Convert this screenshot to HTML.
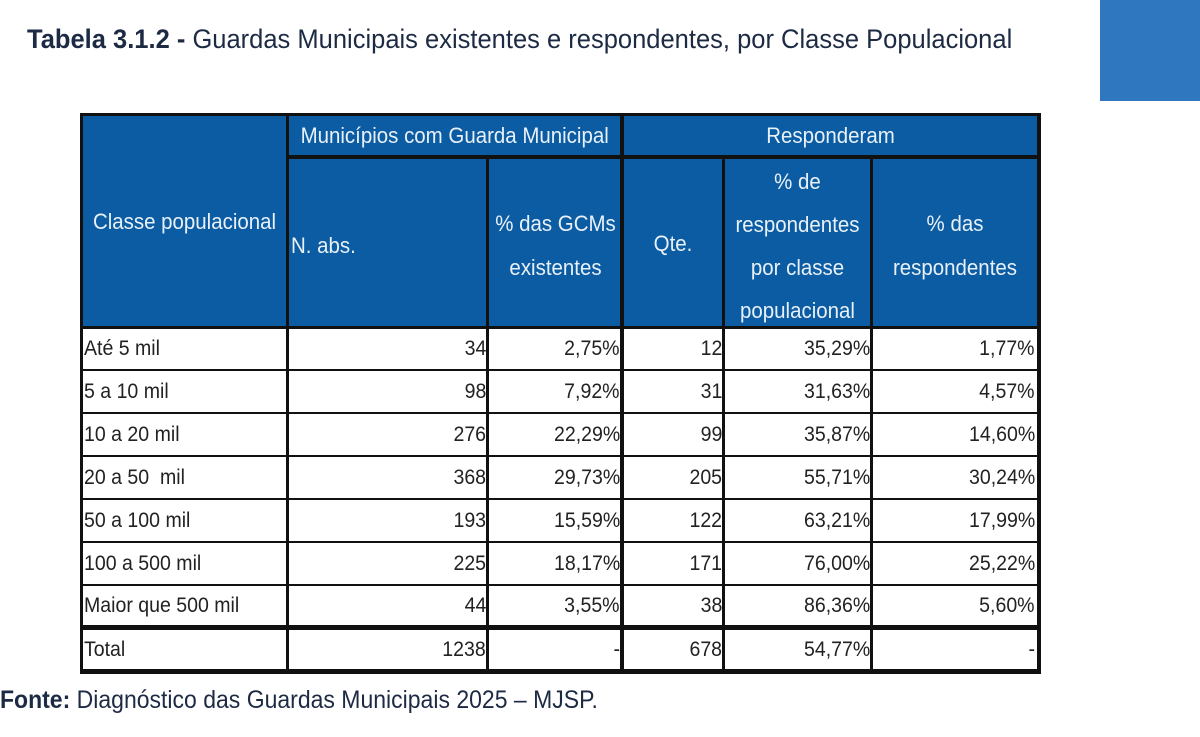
<!DOCTYPE html>
<html><head><meta charset="utf-8"><style>
body{margin:0;width:1200px;height:737px;background:#fff;position:relative;overflow:hidden;font-family:"Liberation Sans",sans-serif;}
.abs{position:absolute}
.t{position:absolute;white-space:nowrap;font-size:21px;line-height:24px;color:#222;}
.hd{color:#e8f0f8;font-size:22px}
.L{transform:scaleX(.93);transform-origin:left center}
.R{transform:scaleX(.93);transform-origin:right center;text-align:right}
.C{transform:scaleX(.93);transform-origin:center center;text-align:center}
.blue{position:absolute;background:#0b5ca3}
.ln{position:absolute;background:#111}
</style></head><body>
<div class="abs" style="left:1100px;top:0;width:100px;height:101px;background:#2f78bf"></div>
<div class="t" style="left:27px;top:24px;font-size:27px;line-height:30px;color:#1d2a44;transform:scaleX(.945);transform-origin:left center"><b>Tabela 3.1.2 -</b> Guardas Municipais existentes e respondentes, por Classe Populacional</div>

<div class="blue" style="left:82px;top:115px;width:956px;height:212px"></div>

<div class="ln" style="left:80px;top:113px;width:960px;height:3px"></div>
<div class="ln" style="left:287px;top:155px;width:753px;height:4px"></div>
<div class="ln" style="left:80px;top:326px;width:960px;height:3px"></div>
<div class="ln" style="left:80px;top:369px;width:960px;height:2px"></div>
<div class="ln" style="left:80px;top:412px;width:960px;height:2px"></div>
<div class="ln" style="left:80px;top:455px;width:960px;height:2px"></div>
<div class="ln" style="left:80px;top:498px;width:960px;height:2px"></div>
<div class="ln" style="left:80px;top:541px;width:960px;height:2px"></div>
<div class="ln" style="left:80px;top:584px;width:960px;height:2px"></div>
<div class="ln" style="left:80px;top:625px;width:960px;height:5px"></div>
<div class="ln" style="left:80px;top:669px;width:960px;height:5px"></div>
<div class="ln" style="left:80px;top:113px;width:3px;height:561px"></div>
<div class="ln" style="left:1037px;top:113px;width:4px;height:561px"></div>
<div class="ln" style="left:286px;top:113px;width:3px;height:561px"></div>
<div class="ln" style="left:620px;top:113px;width:4px;height:561px"></div>
<div class="ln" style="left:486px;top:157px;width:3px;height:517px"></div>
<div class="ln" style="left:722px;top:157px;width:3px;height:517px"></div>
<div class="ln" style="left:870px;top:157px;width:3px;height:517px"></div>

<div class="t hd C" style="left:83px;top:210px;width:203px">Classe populacional</div>
<div class="t hd C" style="left:289px;top:124px;width:331px">Municípios com Guarda Municipal</div>
<div class="t hd C" style="left:624px;top:124px;width:413px">Responderam</div>
<div class="t hd L" style="left:291px;top:234px">N. abs.</div>
<div class="t hd C" style="left:489px;top:202px;width:133px;line-height:44px">% das GCMs<br>existentes</div>
<div class="t hd C" style="left:624px;top:232px;width:98px">Qte.</div>
<div class="t hd C" style="left:725px;top:160px;width:145px;line-height:43px">% de<br>respondentes<br>por classe<br>populacional</div>
<div class="t hd C" style="left:873px;top:202px;width:164px;line-height:44px">% das<br>respondentes</div>

<div id="rows"></div>
<script>
var d=[["Até 5 mil","34","2,75%","12","35,29%","1,77%"],["5 a 10 mil","98","7,92%","31","31,63%","4,57%"],["10 a 20 mil","276","22,29%","99","35,87%","14,60%"],["20 a 50&nbsp; mil","368","29,73%","205","55,71%","30,24%"],["50 a 100 mil","193","15,59%","122","63,21%","17,99%"],["100 a 500 mil","225","18,17%","171","76,00%","25,22%"],["Maior que 500 mil","44","3,55%","38","86,36%","5,60%"],["Total","1238","-","678","54,77%","-"]];
var tops=[337,380,423,466,509,552,594,638],rights=[486,620,722,870,1035],h="";
d.forEach(function(r,i){h+='<div class="t L" style="left:84px;top:'+tops[i]+'px">'+r[0]+'</div>';
for(var j=1;j<6;j++){h+='<div class="t R" style="right:'+(1200-rights[j-1])+'px;top:'+tops[i]+'px">'+r[j]+'</div>';}});
document.getElementById("rows").innerHTML=h;
</script>

<div class="t" style="left:0;top:686px;font-size:25px;line-height:28px;color:#1d2a44;transform:scaleX(.92);transform-origin:left center"><b>Fonte:</b> Diagnóstico das Guardas Municipais 2025 – MJSP.</div>
</body></html>
